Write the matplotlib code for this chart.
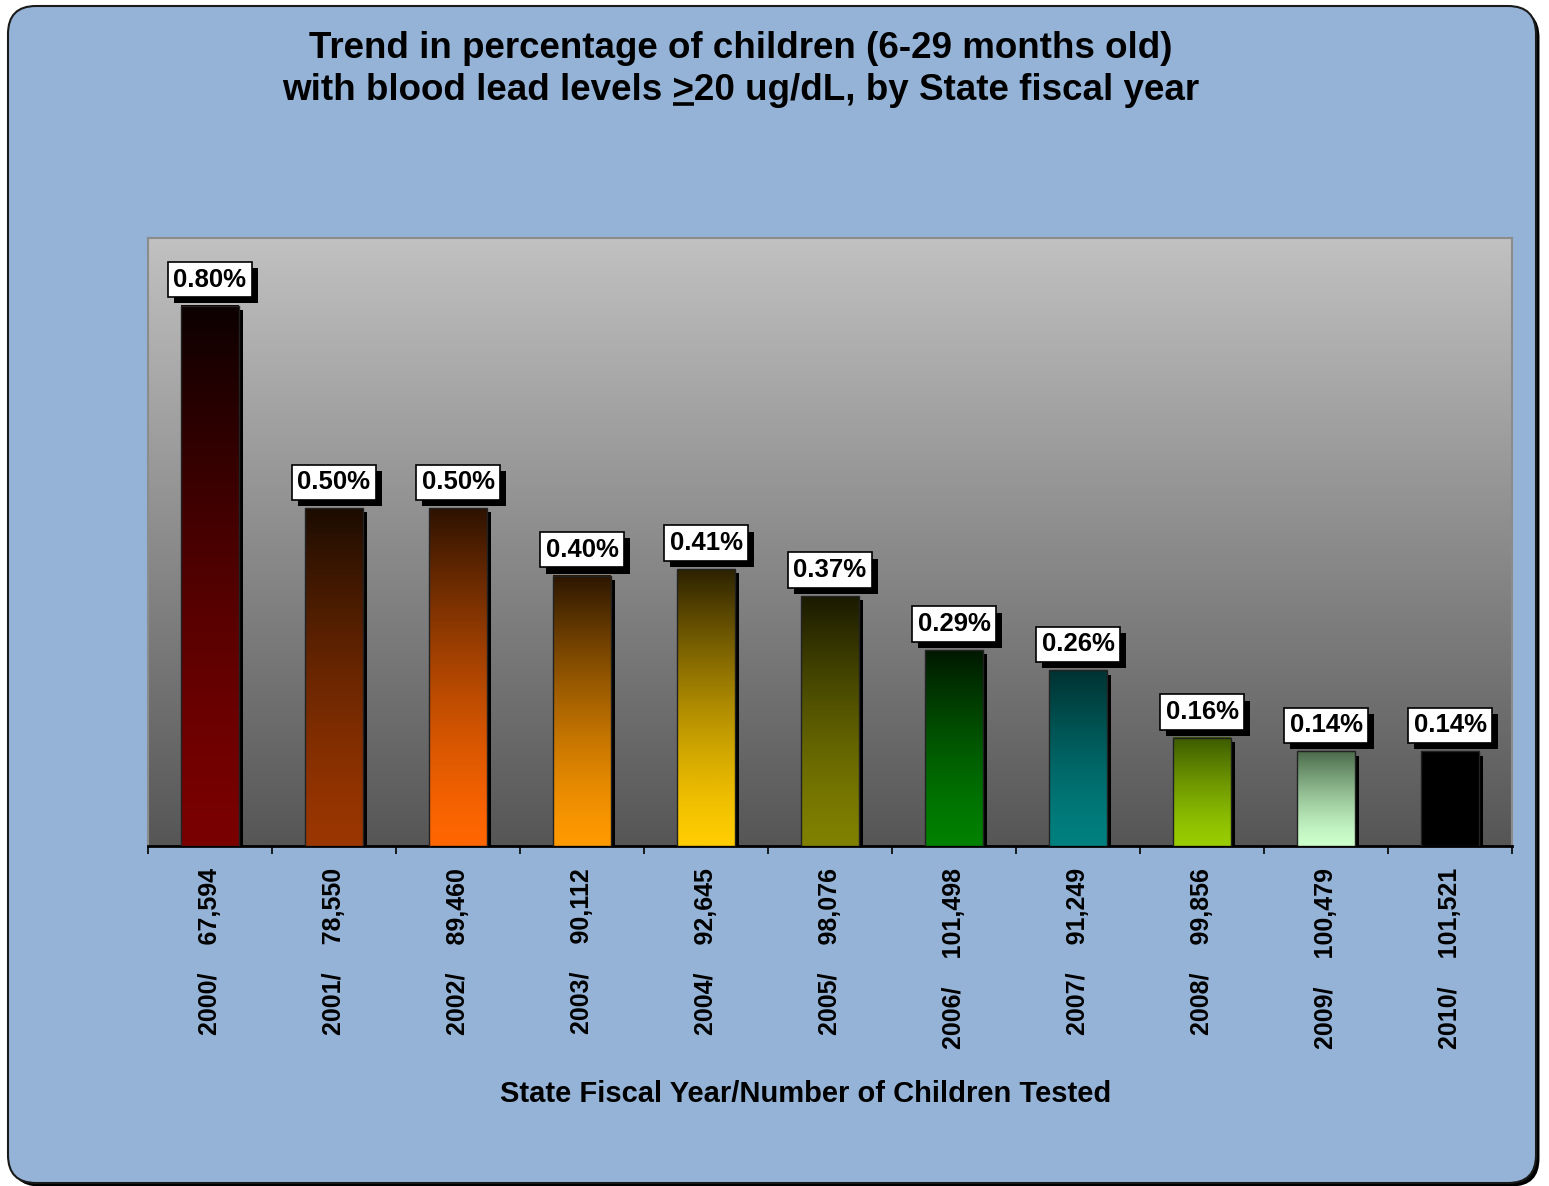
import numpy as np
import matplotlib

matplotlib.use("Agg")
import matplotlib.pyplot as plt
import matplotlib.patheffects as pe
from matplotlib.colors import LinearSegmentedColormap
from matplotlib.font_manager import FontProperties
from matplotlib.lines import Line2D
from matplotlib.patches import FancyBboxPatch
from matplotlib.transforms import IdentityTransform

plt.rcParams["font.family"] = ["Liberation Sans", "DejaVu Sans"]

# data
YEARS = ["2000", "2001", "2002", "2003", "2004", "2005", "2006", "2007", "2008", "2009", "2010"]
CHILDREN_TESTED = ["67,594", "78,550", "89,460", "90,112", "92,645", "98,076",
                   "101,498", "91,249", "99,856", "100,479", "101,521"]
PCT_EBLL = [0.80, 0.50, 0.50, 0.40, 0.41, 0.37, 0.29, 0.26, 0.16, 0.14, 0.14]

TITLE_1 = "Trend in percentage of children (6-29 months old)"
TITLE_2_PRE = "with blood lead levels "
TITLE_2_SIGN = ">"
TITLE_2_POST = "20 ug/dL, by State fiscal year"
XLABEL = "State Fiscal Year/Number of Children Tested"

# gradient colours (bottom, top) per bar
BAR_BOTTOM = ["#7a0000", "#9a3600", "#ff6600", "#ff9900", "#ffcc00", "#808000",
              "#008000", "#008080", "#99cc00", "#ccffcc", "#000000"]
BAR_TOP = ["#0c0000", "#1c0c00", "#2e1200", "#2c1600", "#2c2200", "#1a1a00",
           "#001800", "#003232", "#3c5a00", "#4a6a4a", "#000000"]

W, H, DPI = 1549, 1186, 100


def px(x, y):
    # figure fraction from top-left pixel coords
    return x / W, 1 - y / H


fig = plt.figure(figsize=(W / DPI, H / DPI), dpi=DPI, facecolor="white")

# rounded blue frame with a black shadow
frame = FancyBboxPatch((8, 3), 1528, 1177, boxstyle="round,pad=0,rounding_size=28",
                       fc="#95b3d7", ec="#1a1a1a", lw=1.5, transform=IdentityTransform(),
                       zorder=-1)
frame.set_path_effects([pe.SimplePatchShadow(offset=(2.5, -2.5), shadow_rgbFace="black", alpha=1),
                        pe.Normal()])
fig.add_artist(frame)

left, top = px(148, 238)
right, bottom = px(1512, 846)
ax = fig.add_axes([left, bottom, right - left, top - bottom])
ax.set_facecolor("none")

# grey background gradient of the plot area
bg = LinearSegmentedColormap.from_list("bg", ["#565656", "#c1c1c1"])
ax.imshow(np.linspace(0, 1, 256).reshape(-1, 1), cmap=bg, origin="lower", aspect="auto",
          extent=[0, 1, 0, 1], transform=ax.transAxes, zorder=0, interpolation="bilinear")

x = np.arange(len(PCT_EBLL))
bars = ax.bar(x, PCT_EBLL, width=0.46, color="black", zorder=2,
              path_effects=[pe.SimplePatchShadow(offset=(3, -3), shadow_rgbFace="black", alpha=1),
                            pe.Normal()])

ramp = np.linspace(0, 1, 256) ** 1.4
for b, c0, c1 in zip(bars, BAR_BOTTOM, BAR_TOP):
    cm = LinearSegmentedColormap.from_list("bar", [c0, c1])
    ax.imshow(ramp.reshape(-1, 1), cmap=cm, origin="lower", aspect="auto", vmin=0, vmax=1,
              extent=[b.get_x(), b.get_x() + b.get_width(), 0, b.get_height()],
              zorder=3, interpolation="bilinear")
ax.bar(x, PCT_EBLL, width=0.46, fill=False, edgecolor="#222222", lw=1, zorder=4)

for xi, v in zip(x, PCT_EBLL):
    t = ax.annotate(f"{v:.2f}%", xy=(xi, v), xytext=(0, 14), textcoords="offset pixels",
                    ha="center", va="bottom", fontsize=18.5, fontweight="bold", zorder=6,
                    bbox=dict(boxstyle="square,pad=0.22", fc="white", ec="black", lw=1.2))
    t.get_bbox_patch().set_path_effects(
        [pe.SimplePatchShadow(offset=(4.5, -4.5), shadow_rgbFace="black", alpha=1), pe.Normal()])

ax.set_xlim(-0.5, len(PCT_EBLL) - 0.5)
ax.set_ylim(0, 0.9)
ax.set_yticks([])

ax.set_xticks(np.arange(len(PCT_EBLL) + 1) - 0.5)
ax.set_xticklabels([])
labels = [f"{y}/    {n}" for y, n in zip(YEARS, CHILDREN_TESTED)]
ax.set_xticks(x, labels, minor=True, rotation=90, fontsize=18, fontweight="bold")
ax.tick_params(axis="x", which="major", length=6, width=1.2, direction="out", color="black")
ax.tick_params(axis="x", which="minor", length=0, pad=16)

for side in ["left", "top", "right"]:
    ax.spines[side].set_color("#8c8c8c")
    ax.spines[side].set_linewidth(1.5)
ax.spines["bottom"].set_color("black")
ax.spines["bottom"].set_linewidth(2)

fig.text(*px(806, 1094), XLABEL, ha="center", va="center", fontsize=21, fontweight="bold")

# title, with the ">" underlined as in the original
tcx = 741
tsize = 26.5
fig.text(*px(tcx, 48), TITLE_1, ha="center", va="center", fontsize=tsize, fontweight="bold")
line2 = TITLE_2_PRE + TITLE_2_SIGN + TITLE_2_POST
t2 = fig.text(*px(tcx, 90), line2, ha="center", va="center", fontsize=tsize, fontweight="bold")

renderer = fig.canvas.get_renderer()
fp = FontProperties(family="Liberation Sans", weight="bold", size=tsize)
ext = t2.get_window_extent(renderer)
w_pre, _, _ = renderer.get_text_width_height_descent(TITLE_2_PRE + TITLE_2_SIGN, fp, ismath=False)
w_sign, _, _ = renderer.get_text_width_height_descent(TITLE_2_SIGN, fp, ismath=False)
_, _, desc = renderer.get_text_width_height_descent(line2, fp, ismath=False)
uy = ext.y0 + desc - 4.5
fig.add_artist(Line2D([ext.x0 + w_pre - w_sign, ext.x0 + w_pre], [uy, uy], color="black",
                      lw=2.6, transform=IdentityTransform(), solid_capstyle="butt"))

fig.savefig("out.png", dpi=DPI, facecolor="white")
